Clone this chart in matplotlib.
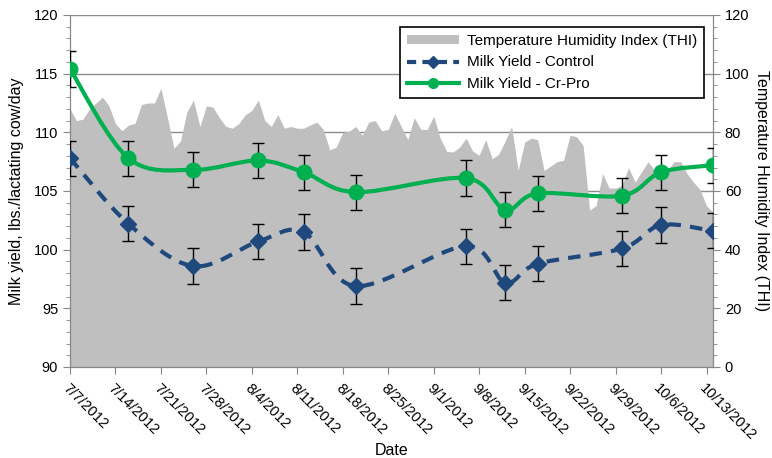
import numpy as np
import datetime as dt
import matplotlib
matplotlib.use("Agg")
import matplotlib.pyplot as plt
import matplotlib.dates as mdates
from matplotlib.path import Path
from matplotlib.patches import PathPatch, Patch
from matplotlib.lines import Line2D

plt.rcParams['font.family'] = ['Liberation Sans', 'DejaVu Sans']

# ---- data ----
start = dt.date(2012, 7, 7)
thi = [88, 84, 84.5, 88, 90, 92, 89, 83, 80.5, 82.5,
       83, 89.5, 90, 90, 95, 85, 74.6, 77, 87, 91,
       82, 89, 88.6, 85, 82, 81.4, 83, 86, 87.5, 91,
       84, 82, 86, 81.4, 82, 81.4, 81.4, 82.5, 83.5, 81,
       74, 75, 80, 80.4, 82, 79, 83.5, 84, 80.5, 81,
       86.5, 82, 77.5, 85, 81, 81, 85.5, 78, 73.5, 73.3,
       75, 78, 73.6, 72.2, 77.5, 71, 72.5, 77, 82, 67,
       76.7, 78, 77.5, 67, 68.5, 70, 70.5, 79, 78.5, 75.6,
       53.5, 55, 66, 61, 61, 62, 68, 63, 66.5, 70,
       67, 65, 67, 70, 70, 66, 63, 60.5, 55, 52.8]
thi_dates = [start + dt.timedelta(days=i) for i in range(len(thi))]

milk_dates = [dt.date(2012, 7, 7), dt.date(2012, 7, 16), dt.date(2012, 7, 26),
              dt.date(2012, 8, 5), dt.date(2012, 8, 12), dt.date(2012, 8, 20),
              dt.date(2012, 9, 6), dt.date(2012, 9, 12), dt.date(2012, 9, 17),
              dt.date(2012, 9, 30), dt.date(2012, 10, 6), dt.date(2012, 10, 14)]
control = [107.8, 102.2, 98.6, 100.7, 101.5, 96.9, 100.3, 97.2, 98.8, 100.1, 102.1, 101.6]
crpro = [115.4, 107.8, 106.8, 107.6, 106.6, 104.9, 106.1, 103.4, 104.8, 104.6, 106.6, 107.2]
control_err = [1.5, 1.5, 1.5, 1.5, 1.5, 1.5, 1.5, 1.5, 1.5, 1.5, 1.5, 1.5]
crpro_err = [1.5, 1.5, 1.5, 1.5, 1.5, 1.5, 1.5, 1.5, 1.5, 1.5, 1.5, 1.5]
tick_dates = [start + dt.timedelta(weeks=w) for w in range(15)]
tick_labels = [f"{d.month}/{d.day}/{d.year}" for d in tick_dates]


def smooth_path(x, y):
    # excel-like smoothed line: cubic bezier (catmull-rom) through the points
    pts = np.column_stack([x, y])
    p = np.vstack([pts[0], pts, pts[-1]])
    verts = [tuple(pts[0])]
    codes = [Path.MOVETO]
    for i in range(1, len(p) - 2):
        c1 = p[i] + (p[i + 1] - p[i - 1]) / 6.0
        c2 = p[i + 1] - (p[i + 2] - p[i]) / 6.0
        verts += [tuple(c1), tuple(c2), tuple(p[i + 1])]
        codes += [Path.CURVE4] * 3
    return Path(verts, codes)


green = '#00B050'
blue = '#1F497D'
axgrey = '#868686'

fig = plt.figure(figsize=(7.72, 4.58), dpi=100)
ax2 = fig.add_axes([70 / 772, 1 - 367 / 458, 643 / 772, 352 / 458])
ax1 = ax2.twinx()
# left axis drawn on the twin so lines sit above the area
ax1.yaxis.tick_left()
ax1.yaxis.set_label_position('left')
ax2.yaxis.tick_right()
ax2.yaxis.set_label_position('right')

xd = mdates.date2num(thi_dates)
ax2.fill_between(xd, 0, thi, color='#BFBFBF', lw=0, zorder=2)
ax2.set_ylim(0, 120)
ax2.set_yticks(np.arange(0, 121, 20))
ax2.set_yticks(np.arange(0, 121, 4), minor=True)
ax2.grid(axis='y', color='#8C8C8C', lw=1, zorder=0)
ax2.set_axisbelow(True)
ax2.set_ylabel('Temperature Humidity Index (THI)', rotation=270, labelpad=14, fontsize=11.5)

mx = mdates.date2num(milk_dates)
ax1.add_patch(PathPatch(smooth_path(mx, control), fill=False, edgecolor=blue, lw=3,
                        linestyle=(0, (3, 2.2)), capstyle='butt', zorder=3))
ax1.add_patch(PathPatch(smooth_path(mx, crpro), fill=False, edgecolor=green, lw=3, zorder=3))
ax1.errorbar(mx, control, yerr=control_err, fmt='D', color=blue, ms=8, ecolor='black',
             elinewidth=1, capsize=4, capthick=1, zorder=4)
ax1.errorbar(mx, crpro, yerr=crpro_err, fmt='o', color=green, ms=10.5, ecolor='black',
             elinewidth=1, capsize=4, capthick=1, zorder=4)
ax1.set_ylim(90, 120)
ax1.set_yticks(np.arange(90, 121, 5))
ax1.set_yticks(np.arange(90, 121, 1), minor=True)
ax1.set_ylabel('Milk yield, lbs./lactating cow/day', fontsize=11.5, labelpad=7)

ax2.set_xlim(mdates.date2num(start), mdates.date2num(dt.date(2012, 10, 14)))
ax2.set_xticks(mdates.date2num(tick_dates))
ax2.set_xticklabels(tick_labels, rotation=-45, ha='left', va='top', rotation_mode='anchor')
ax2.set_xlabel('Date', fontsize=11.5)
ax2.xaxis.set_label_coords(0.5, -0.215)

for ax in (ax1, ax2):
    for s in ax.spines.values():
        s.set_color(axgrey)
    ax.spines['top'].set_visible(False)
    ax.tick_params(axis='both', which='major', length=5, color=axgrey, labelsize=10.5)
    ax.tick_params(axis='both', which='minor', length=3, color=axgrey)
ax2.tick_params(axis='x', pad=5, labelsize=10.5)

handles = [Patch(facecolor='#BFBFBF', edgecolor='none'),
           Line2D([], [], color=blue, lw=3, linestyle=(0, (2.2, 1.5)), marker='D', ms=6),
           Line2D([], [], color=green, lw=3, marker='o', ms=7)]
labels = ['Temperature Humidity Index (THI)', 'Milk Yield - Control', 'Milk Yield - Cr-Pro']
leg = ax1.legend(handles, labels, loc='upper right', bbox_to_anchor=(0.986, 0.966),
                 fontsize=11, handlelength=3.4, handleheight=0.5, fancybox=False, framealpha=1,
                 edgecolor='black', borderpad=0.45, labelspacing=0.5, handletextpad=0.5,
                 borderaxespad=0)
leg.get_frame().set_linewidth(1.2)

fig.savefig('out.png', dpi=100)
